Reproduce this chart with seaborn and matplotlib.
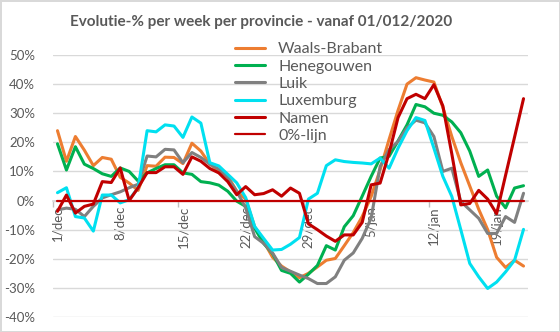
import numpy as np
import pandas as pd
import matplotlib
matplotlib.use("Agg")
import matplotlib.pyplot as plt
import seaborn as sns

# ---- data -------------------------------------------------------------
dates = pd.date_range("2020-12-01", "2021-01-22", freq="D")
day_labels = [f"{d.day}/{'dec' if d.month == 12 else 'jan'}" for d in dates]

waals_brabant = [24, 13.5, 22, 17.3, 12, 14.8, 14.2, 8, 6, 3.5,
                 12, 11.8, 14.9, 14.8, 12.7, 19.7, 17, 12.5, 10.2, 8.4,
                 3.2, 0.5, -9, -14, -19.5, -22.5, -24.5, -26.5, -25, -22.8,
                 -20.5, -19.9, -15.5, -11, -5.5, 1.4, 10.6, 21, 31, 40,
                 42.2, 41.4, 40.7, 32, 22, 13, 5, -3, -10, -19.5,
                 -23, -20.5, -22.5]
henegouwen = [19.5, 10.5, 18.5, 12.5, 11, 9.2, 8.3, 11.2, 10, 6.7,
              9.5, 11, 12.3, 12.3, 9.5, 9, 6.5, 6.1, 5.3, 3.2,
              -0.2, -2, -9.5, -14.7, -18.2, -24, -25, -28, -25.3, -22.3,
              -15.5, -17, -9, -5.2, 1.5, 8.3, 14.6, 15.2, 20.5, 26,
              33, 32.2, 30, 29.3, 27, 23.3, 17, 8.3, 10.5, 1.5,
              -2.5, 4.3, 5.1]
luik = [-3.2, -2.6, -3, -5.5, -2, 0.9, 2, 3, 4.4, 5.6,
        15.3, 15, 17.6, 17.4, 13, 16.5, 14.8, 12.5, 10.8, 7.9,
        3.2, -2.5, -12.4, -14.7, -18, -23, -24.3, -25.6, -26.8, -28.5,
        -28.5, -26.2, -20.5, -18, -13, -6, 11.7, 17.5, 20.3, 25,
        27.6, 26.7, 22, 10, 11.1, -0.3, -3.2, -6.1, -11.3, -11.3,
        -5.5, -7.5, 2.5]
luxemburg = [2.7, 4.4, -5.5, -6, -10.5, 1.9, 1.9, -0.8, 0.3, 4.4,
             24, 23.6, 26, 25.6, 21.7, 28.7, 26.6, 13, 11.9, 9,
             6.1, 1, -8.9, -13, -17, -16.8, -15, -12.7, 0.5, 2.5,
             12, 14, 13.4, 13.1, 12.9, 12.6, 14.6, 11.1, 18, 24,
             28.5, 27.5, 18, 8.3, 1.4, -10, -21.6, -26.2, -30.2, -28,
             -24.5, -20.5, -9.9]
namen = [-3.7, 1.9, -4.3, -2, -1.2, 6.5, 6.2, 11.2, 0, 4.4,
         9.6, 9.6, 11.6, 11.6, 9, 15, 13.5, 11, 9.5, 6.5,
         2, 4.8, 2, 2.4, 3.7, 1.5, 4.3, 2.5, -8, -10,
         -12.2, -14, -11.8, -11.8, -7.5, 5.4, 6, 16.3, 28.5, 35,
         36.5, 35, 39.8, 32.5, 16, -1.5, -1, 3.5, 0.5, -4.5,
         8.7, 21.8, 35]
nul_lijn = [0] * len(day_labels)

series_names = ["Waals-Brabant", "Henegouwen", "Luik", "Luxemburg", "Namen", "0%-lijn"]
series_values = [waals_brabant, henegouwen, luik, luxemburg, namen, nul_lijn]
series_colors = ["#ED7D31", "#00B050", "#808080", "#00E0F0", "#C00000", "#C00000"]
series_widths = [2.2, 2.2, 2.2, 2.2, 2.2, 1.6]

title = "Evolutie-% per week per provincie - vanaf 01/012/2020"
y_ticks = list(range(-40, 51, 10))

# ---- drawing ----------------------------------------------------------
sns.set_theme(style="white")
plt.rcParams['font.family'] = ['Lato', 'DejaVu Sans']

W, H = 560, 332
fig = plt.figure(figsize=(W / 100, H / 100), dpi=100)
fig.patch.set_facecolor("white")
fig.patch.set_edgecolor("#d9d9d9")
fig.patch.set_linewidth(2)

ax = fig.add_axes([53 / W, 1 - 317 / H, 475 / W, (317 - 55) / H])
x = np.arange(len(day_labels))

for name, vals, col, lw in zip(series_names, series_values, series_colors, series_widths):
    sns.lineplot(x=x, y=vals, ax=ax, color=col, linewidth=lw, label=name, zorder=3)

ax.set_xlim(-0.5, len(x) - 0.5)
ax.set_ylim(-40, 50)
ax.set_yticks(y_ticks)
ax.set_yticklabels([f"{v}%" for v in y_ticks])
ax.grid(axis="y", color="#d9d9d9", linewidth=1)
ax.grid(axis="x", visible=False)
ax.set_axisbelow(True)
for s in ["top", "right", "left"]:
    ax.spines[s].set_visible(False)
ax.spines["bottom"].set_position(("data", 0))
ax.spines["bottom"].set_color("#d9d9d9")
ax.spines["bottom"].set_zorder(1)

tick_idx = [i for i in x if i % 7 == 0]
ax.set_xticks(tick_idx)
ax.set_xticklabels([day_labels[i] for i in tick_idx], rotation=90, va="top", ha="center")
ax.tick_params(axis="x", which="major", length=0, pad=4, labelsize=9.5, labelcolor="#595959")
ax.set_xticks([-0.5, 13.5, 27.5, 41.5], minor=True)
ax.tick_params(axis="x", which="minor", bottom=True, length=4, color="#bfbfbf", width=1, direction="out")
ax.tick_params(axis="y", length=0, pad=13, labelsize=9.5, labelcolor="#595959")
ax.set_xlabel("")
ax.set_ylabel("")

fig.text(261 / W, 1 - 22 / H, title, ha="center", va="center",
         fontsize=11, fontweight="bold", color="#595959")

leg = ax.legend(loc="upper left", bbox_to_anchor=(235 / W, 1 - 42 / H),
                bbox_transform=fig.transFigure, frameon=False, fontsize=11.5,
                handlelength=1.9, handletextpad=0.8, labelspacing=0.2,
                borderpad=0, borderaxespad=0)
for t in leg.get_texts():
    t.set_color("#595959")

fig.savefig("out.png", dpi=100, facecolor="white", edgecolor=fig.patch.get_edgecolor())
